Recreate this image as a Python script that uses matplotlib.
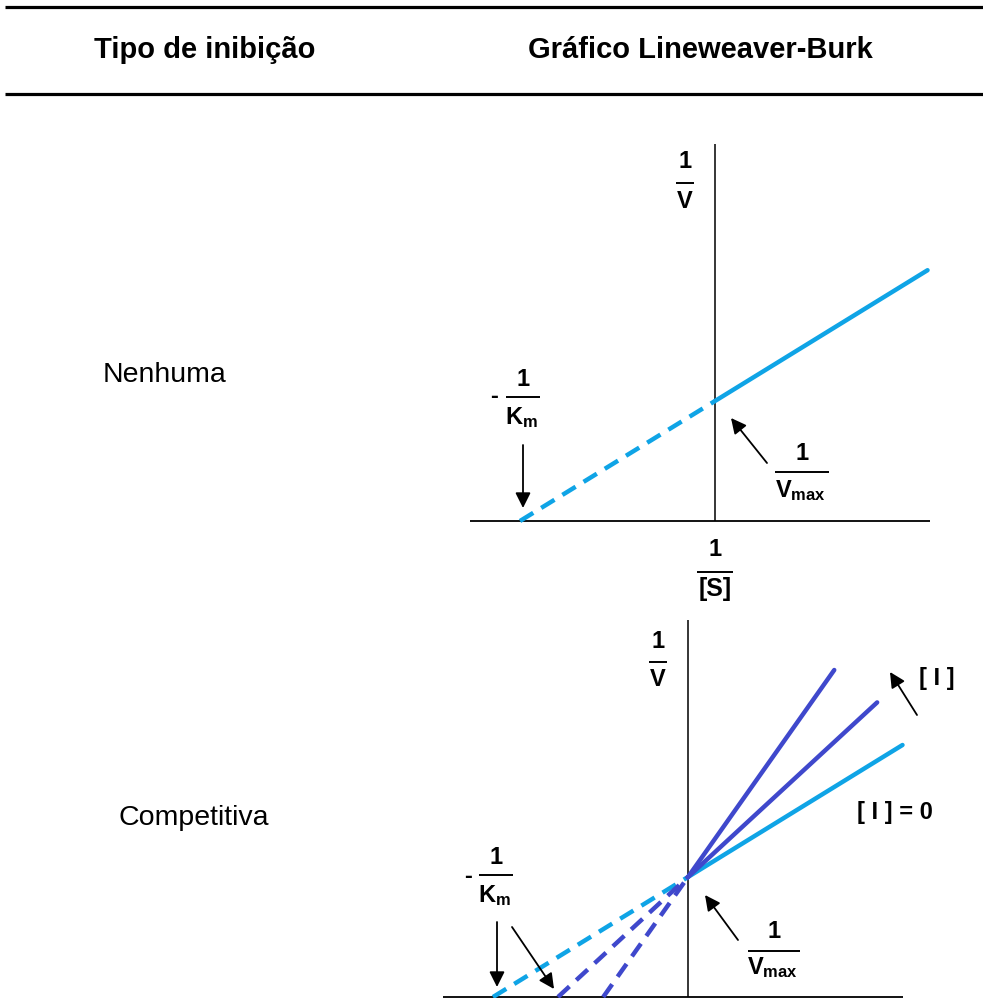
import matplotlib
matplotlib.use("Agg")
import matplotlib.pyplot as plt
from matplotlib import font_manager
from matplotlib.lines import Line2D
from matplotlib.patches import FancyArrowPatch

plt.rcParams['font.family'] = ['Liberation Sans', 'DejaVu Sans']
plt.rcParams['mathtext.fontset'] = 'custom'
plt.rcParams['mathtext.rm'] = 'Liberation Sans'
plt.rcParams['mathtext.bf'] = 'Liberation Sans:bold'
plt.rcParams['mathtext.it'] = 'Liberation Sans:italic'

# condensed face for the header and inhibitor labels, if present
_installed = {f.name for f in font_manager.fontManager.ttflist}
HAS_NARROW = "Liberation Sans Narrow" in _installed
NARROW = ["Liberation Sans Narrow", "Liberation Sans", "DejaVu Sans"]

# ---- data -------------------------------------------------------------
header_labels = ["Tipo de inibição", "Gráfico Lineweaver-Burk"]
row_labels = ["Nenhuma", "Competitiva"]

vmax = 1.0                      # 1/Vmax intercept on the 1/V axis
km_none = 1.0                   # no inhibitor
x_end_none = 1.09               # right end of the plotted line (1/[S])

km_competitive = [1.0, 1.5, 2.3]     # apparent Km as [I] increases
x_end_competitive = [1.10, 0.97, 0.75]
inhibitor_labels = ["[ I ] = 0", "[ I ]"]

x_axis_extent = (-1.255, 1.10)
y_axis_top = 3.14

LIGHT_BLUE = "#0FA4E6"
INDIGO = "#3F48CC"

# ---- canvas -----------------------------------------------------------
W, H = 983, 998
fig = plt.figure(figsize=(W / 100, H / 100), dpi=100)
fig.patch.set_facecolor("white")


def fx(x):
    return x / W


def fy(y):
    return 1 - y / H


def hline(x0, x1, y, lw=1.2):
    fig.add_artist(Line2D([fx(x0), fx(x1)], [fy(y), fy(y)],
                          transform=fig.transFigure, color="black", lw=lw,
                          solid_capstyle="butt"))


def arrow(x0, y0, x1, y1):
    fig.add_artist(FancyArrowPatch((fx(x0), fy(y0)), (fx(x1), fy(y1)),
                                   transform=fig.transFigure,
                                   arrowstyle="-|>", mutation_scale=23,
                                   lw=1.3, color="black",
                                   shrinkA=0, shrinkB=0))


def text(x, y, s, size=17, weight="bold", **kw):
    fig.text(fx(x), fy(y), s, ha="center", va="center", fontsize=size,
             fontweight=weight, **kw)


def fraction(cx, y_num, y_bar, y_den, half, den, num="1", dx_den=0,
             den_size=17):
    text(cx, y_num, num)
    hline(cx - half, cx + half, y_bar, lw=1.4)
    text(cx + dx_den, y_den, den, size=den_size)


def make_axes(ox, oy, xlim=(-1.4, 1.25), ylim=(-0.1, 3.3), sx=195, sy=120):
    left = ox + xlim[0] * sx
    right = ox + xlim[1] * sx
    top = oy - ylim[1] * sy
    bottom = oy - ylim[0] * sy
    ax = fig.add_axes([left / W, 1 - bottom / H, (right - left) / W,
                       (bottom - top) / H])
    ax.set_xlim(xlim)
    ax.set_ylim(ylim)
    ax.axis("off")
    ax.plot(x_axis_extent, [0, 0], color="black", lw=1.3,
            solid_capstyle="butt")
    ax.plot([0, 0], [0, y_axis_top], color="black", lw=1.1,
            solid_capstyle="butt")
    return ax


def lb_line(ax, km, x_end, color, z):
    slope = km / vmax
    intercept = 1 / vmax
    ax.plot([0, x_end], [intercept, intercept + slope * x_end], color=color,
            lw=3.2, solid_capstyle="round", zorder=z)
    x_int = -1 / km
    ax.plot([x_int, 0], [0, intercept], color=color, lw=3.2,
            linestyle=(0, (3.5, 2.1)), dash_capstyle="butt", zorder=z)


# ---- header -----------------------------------------------------------
hline(5, 983, 7, lw=2.3)
hline(5, 983, 94, lw=2.3)
if HAS_NARROW:
    text(205, 50, header_labels[0], size=25, family=NARROW)
    text(700, 50, header_labels[1], size=25, family=NARROW)
else:
    text(205, 50, header_labels[0], size=21)
    text(700, 50, header_labels[1], size=21)

# ---- row labels -------------------------------------------------------
fig.text(fx(103), fy(382), row_labels[0], ha="left", va="baseline",
         fontsize=20.5)
fig.text(fx(118), fy(825), row_labels[1], ha="left", va="baseline",
         fontsize=20.5)

# ---- no inhibition ----------------------------------------------------
ax1 = make_axes(715, 521)
lb_line(ax1, km_none, x_end_none, LIGHT_BLUE, 3)

fraction(685, 162, 183, 202, 9, "V")
text(494, 396, "-", size=17)
fraction(523, 380, 397, 418, 17, r"$\mathbf{K}_{\mathbf{m}}$", dx_den=-2)
arrow(523, 445, 523, 508)
fraction(802, 453, 472, 491, 27, r"$\mathbf{V}_{\mathbf{max}}$", dx_den=-2)
arrow(767, 463, 731, 418)
fraction(715, 550, 572, 589, 18, "[S]", den_size=18)

# ---- competitive inhibition -------------------------------------------
ax2 = make_axes(688, 997)
colors = [LIGHT_BLUE, INDIGO, INDIGO]
for i, (km, xe, c) in enumerate(zip(km_competitive, x_end_competitive,
                                    colors)):
    lb_line(ax2, km, xe, c, 3 + i)

fraction(658, 641, 662, 680, 9, "V")
text(468, 876, "-", size=17)
fraction(496, 858, 875, 896, 17, r"$\mathbf{K}_{\mathbf{m}}$", dx_den=-2)
arrow(497, 922, 497, 987)
arrow(512, 927, 554, 989)
fraction(774, 932, 951, 968, 26, r"$\mathbf{V}_{\mathbf{max}}$", dx_den=-2)
arrow(738, 940, 705, 895)
arrow(917, 715, 890, 672)
if HAS_NARROW:
    text(937, 679, inhibitor_labels[1], size=19, family=NARROW)
    text(895, 812, inhibitor_labels[0], size=19, family=NARROW)
else:
    text(937, 679, inhibitor_labels[1], size=17)
    text(895, 812, inhibitor_labels[0], size=17)

fig.savefig("out.png", dpi=100, facecolor="white")
